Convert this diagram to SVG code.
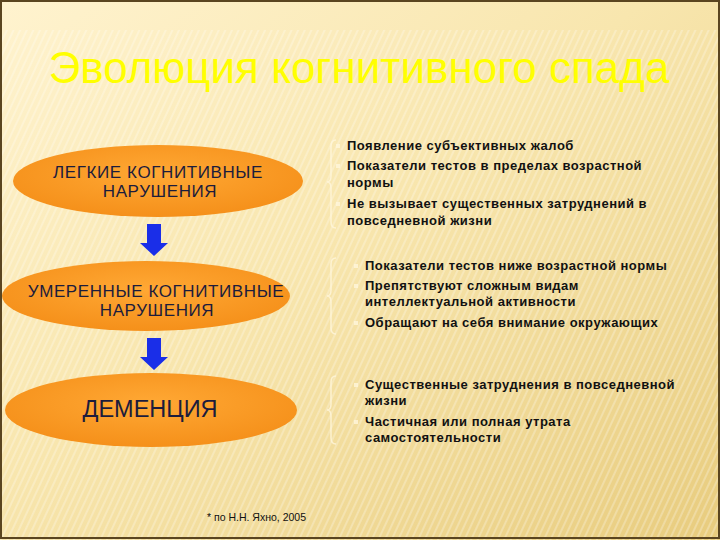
<svg xmlns="http://www.w3.org/2000/svg" width="720" height="540" viewBox="0 0 720 540">
<defs>
<linearGradient id="bg" x1="0" y1="0" x2="1" y2="1">
<stop offset="0" stop-color="#fff3cf"/>
<stop offset="0.45" stop-color="#f8e6ae"/>
<stop offset="1" stop-color="#e8cc7e"/>
</linearGradient>
<pattern id="stripes" width="6" height="6" patternUnits="userSpaceOnUse" patternTransform="rotate(25)">
<rect width="2" height="6" fill="#ffffff" opacity="0.25"/>
</pattern>
<radialGradient id="ell" cx="0.5" cy="0.4" r="0.6">
<stop offset="0" stop-color="#ffa834"/>
<stop offset="1" stop-color="#f5901a"/>
</radialGradient>
<style>
.node{fill:url(#ell);}
.nt{font-family:"Liberation Sans",Arial,sans-serif;fill:#1c1c3c;text-anchor:middle;}
.bt{font-family:"Liberation Sans",Arial,sans-serif;font-weight:bold;font-size:13px;letter-spacing:0.5px;fill:#111;}
.brace{fill:none;stroke:#fff6dc;stroke-width:1.5;opacity:0.8;}
.bul{fill:#fff6dc;opacity:0.8;}
.arrow{fill:#1a2ee8;}
</style>
</defs>
<rect width="720" height="540" fill="url(#bg)"/>
<rect x="0" y="30" width="720" height="510" fill="url(#stripes)"/>
<rect x="1" y="1" width="718" height="537" fill="none" stroke="#5a4520" stroke-width="2"/>
<text x="359" y="83" font-family="Liberation Sans,Arial,sans-serif" font-size="44" fill="#ffff00" text-anchor="middle">Эволюция когнитивного спада</text>

<g id="node1">
<ellipse class="node" cx="158" cy="181" rx="145" ry="36"/>
<text class="nt" font-size="17" letter-spacing="0.6" x="158" y="178">ЛЕГКИЕ КОГНИТИВНЫЕ</text>
<text class="nt" font-size="17" letter-spacing="0.6" x="160" y="197">НАРУШЕНИЯ</text>
</g>
<g id="node2">
<ellipse class="node" cx="146" cy="296" rx="144" ry="35"/>
<text class="nt" font-size="17" letter-spacing="0.6" x="156" y="297">УМЕРЕННЫЕ КОГНИТИВНЫЕ</text>
<text class="nt" font-size="17" letter-spacing="0.6" x="157" y="316">НАРУШЕНИЯ</text>
</g>
<g id="node3">
<ellipse class="node" cx="151" cy="410" rx="146" ry="37"/>
<text class="nt" font-size="23.5" x="150" y="417">ДЕМЕНЦИЯ</text>
</g>

<g id="connectors">
<path class="arrow" d="M147 224 H161 V243 H168 L154 256 L140 243 H147 Z"/>
<path class="arrow" d="M147 338 H161 V357 H168 L154 370 L140 357 H147 Z"/>
</g>

<g id="list1">
<path class="brace" d="M336 140 Q331 140 331 146 V176 Q331 182 327 182 Q331 182 331 188 V222 Q331 228 336 228"/>
<rect class="bul" x="336" y="144" width="4" height="4"/>
<rect class="bul" x="336" y="164" width="4" height="4"/>
<rect class="bul" x="336" y="202" width="4" height="4"/>
<text class="bt" x="347" y="150">Появление субъективных жалоб</text>
<text class="bt" x="347" y="170">Показатели тестов в пределах возрастной</text>
<text class="bt" x="347" y="187">нормы</text>
<text class="bt" x="347" y="208">Не вызывает существенных затруднений в</text>
<text class="bt" x="347" y="225">повседневной жизни</text>
</g>
<g id="list2">
<path class="brace" d="M336 258 Q331 258 331 264 V290 Q331 296 327 296 Q331 296 331 302 V328 Q331 334 336 334"/>
<rect class="bul" x="354" y="264" width="4" height="4"/>
<rect class="bul" x="354" y="284" width="4" height="4"/>
<rect class="bul" x="354" y="321" width="4" height="4"/>
<text class="bt" x="365" y="270">Показатели тестов ниже возрастной нормы</text>
<text class="bt" x="365" y="290">Препятствуют сложным видам</text>
<text class="bt" x="365" y="306">интеллектуальной активности</text>
<text class="bt" x="365" y="327">Обращают на себя внимание окружающих</text>
</g>
<g id="list3">
<path class="brace" d="M336 376 Q331 376 331 382 V404 Q331 410 327 410 Q331 410 331 416 V438 Q331 444 336 444"/>
<rect class="bul" x="354" y="383" width="4" height="4"/>
<rect class="bul" x="354" y="420" width="4" height="4"/>
<text class="bt" x="365" y="389">Существенные затруднения в повседневной</text>
<text class="bt" x="365" y="405">жизни</text>
<text class="bt" x="365" y="426">Частичная или полная утрата</text>
<text class="bt" x="365" y="442">самостоятельности</text>
</g>
<text x="207" y="521" font-family="Liberation Sans,Arial,sans-serif" font-size="10.5" fill="#111">* по Н.Н. Яхно, 2005</text>
</svg>
